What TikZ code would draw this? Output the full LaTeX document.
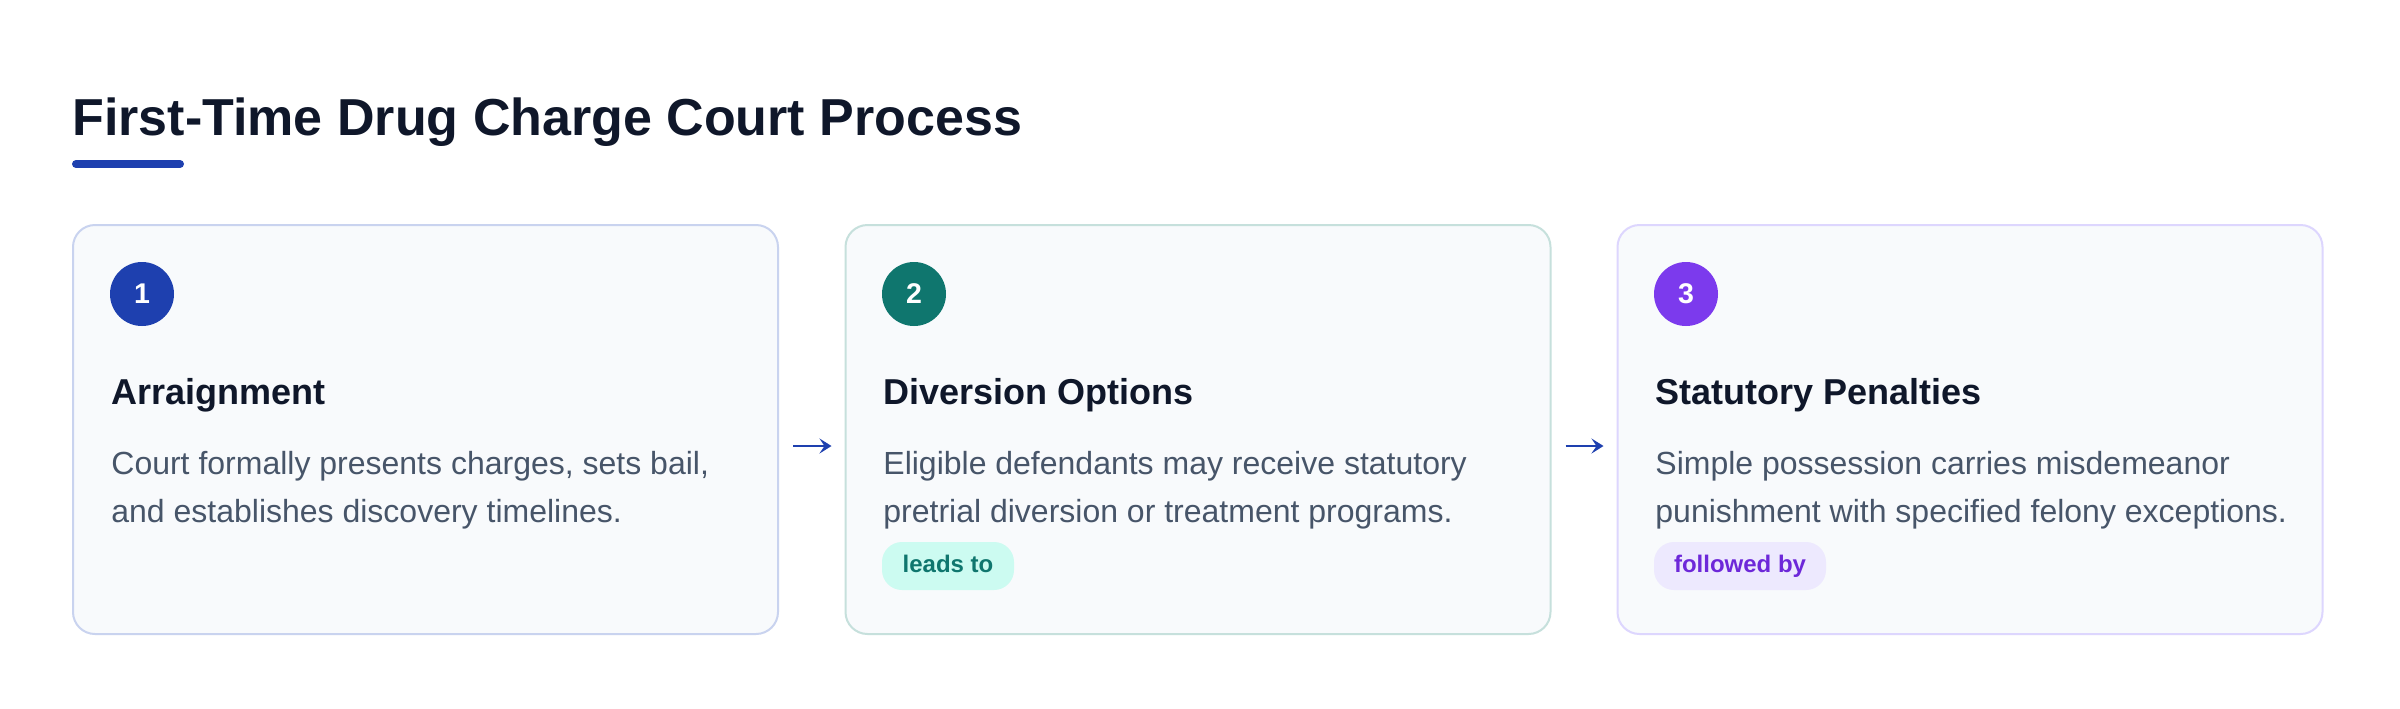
\documentclass[tikz,border=0pt]{standalone}
\usepackage{fontspec}
\setmainfont{Liberation Sans}
\usetikzlibrary{arrows.meta}
\definecolor{titlec}{HTML}{0F172A}
\definecolor{bodyc}{HTML}{475569}
\definecolor{boxfill}{HTML}{F8FAFC}
\definecolor{bordA}{HTML}{C9D3EF}
\definecolor{bordB}{HTML}{C6E0DC}
\definecolor{bordC}{HTML}{DDD6FE}
\definecolor{circA}{HTML}{1E40AF}
\definecolor{circB}{HTML}{0F766E}
\definecolor{circC}{HTML}{7C3AED}
\definecolor{badgeBf}{HTML}{CCFBF1}
\definecolor{badgeBt}{HTML}{0F766E}
\definecolor{badgeCf}{HTML}{EDE9FE}
\definecolor{badgeCt}{HTML}{6D28D9}
\begin{document}
\begin{tikzpicture}[x=0.5pt,y=-0.5pt,
  stepbox/.style={draw, line width=1pt, fill=boxfill, rounded corners=11pt,
    minimum width=352.5pt, minimum height=204.5pt, inner sep=0pt},
  numdot/.style={circle, minimum size=32pt, inner sep=0pt, text=white,
    font=\fontsize{14.25pt}{16pt}\selectfont\bfseries},
  headtxt/.style={anchor=base west, inner sep=0pt, text=titlec,
    font=\fontsize{18pt}{22pt}\selectfont\bfseries},
  bodytxt/.style={anchor=base west, inner sep=0pt, text=bodyc, align=left,
    font=\fontsize{16pt}{24pt}\selectfont},
  badge/.style={rounded corners=10pt, minimum width=66pt, minimum height=24pt,
    inner sep=0pt, text height=9pt, text depth=3pt,
    font=\fontsize{12pt}{14pt}\selectfont\bfseries},
  flowarrow/.style={draw=circA, line width=1pt,
    -{Stealth[length=6pt,width=7.5pt,inset=2.5pt]}}
]
\useasboundingbox[fill=white] (0,0) rectangle (2400,708);

% title
\node[anchor=base west, inner sep=0pt, text=titlec,
  font=\fontsize{26pt}{30pt}\selectfont\bfseries] (title) at (72,135)
  {First-Time Drug Charge Court Process};
\draw[circA, line width=4pt, line cap=round] (76,164) -- (180,164);

% boxes
\node[stepbox, draw=bordA] (b1) at (425.5,429.5) {};
\node[stepbox, draw=bordB] (b2) at (1198,429.5) {};
\node[stepbox, draw=bordC] (b3) at (1970,429.5) {};

% step 1 (body node anchored at the baseline of its last line)
\node[numdot, fill=circA] (n1) at (142,294) {1};
\node[headtxt] (h1) at (111,404) {Arraignment};
\node[bodytxt] (t1) at (111,522) {Court formally presents charges, sets bail,\\and establishes discovery timelines.};

% step 2
\node[numdot, fill=circB] (n2) at (914,294) {2};
\node[headtxt] (h2) at (883,404) {Diversion Options};
\node[bodytxt] (t2) at (883,522) {Eligible defendants may receive statutory\\pretrial diversion or treatment programs.};
\node[badge, fill=badgeBf, text=badgeBt] (g2) at (948,566) {leads to};

% step 3
\node[numdot, fill=circC] (n3) at (1686,294) {3};
\node[headtxt] (h3) at (1655,404) {Statutory Penalties};
\node[bodytxt] (t3) at (1655,522) {Simple possession carries misdemeanor\\punishment with specified felony exceptions.};
\node[badge, fill=badgeCf, text=badgeCt, minimum width=86pt] (g3) at (1740,566) {followed by};

% arrows
\draw[flowarrow, shorten <=7pt, shorten >=6.5pt] ([yshift=-8.25pt]b1.east) -- ([yshift=-8.25pt]b2.west);
\draw[flowarrow, shorten <=7pt, shorten >=6.5pt] ([yshift=-8.25pt]b2.east) -- ([yshift=-8.25pt]b3.west);
\end{tikzpicture}
\end{document}
